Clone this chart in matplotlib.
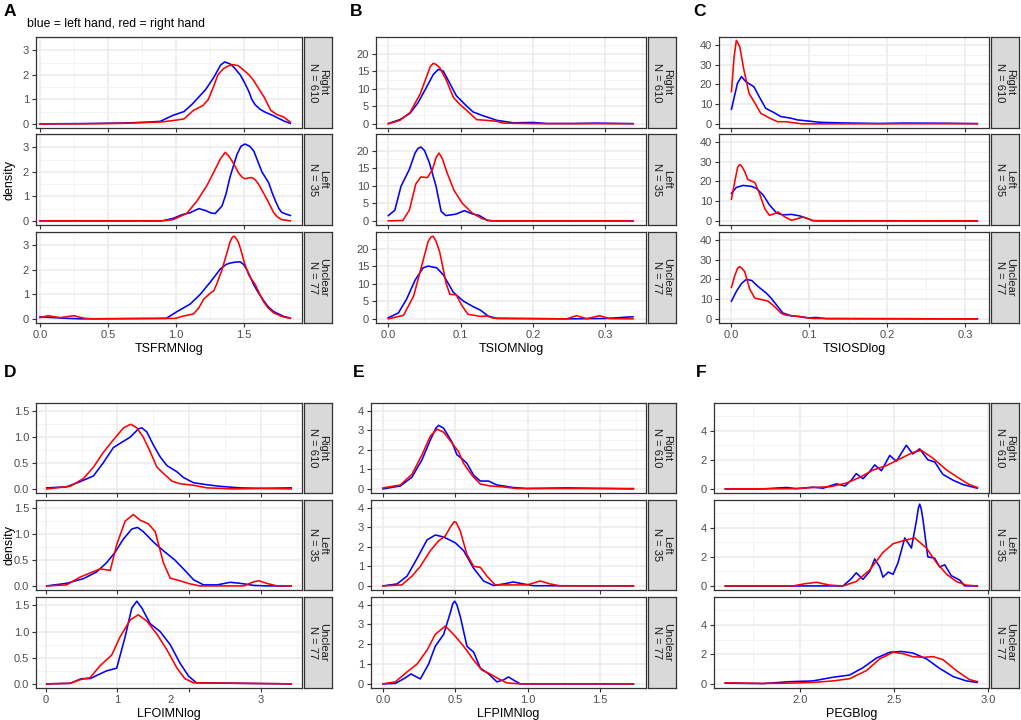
import matplotlib
matplotlib.use("Agg")
import matplotlib.pyplot as plt
from matplotlib.ticker import MultipleLocator
from matplotlib.transforms import ScaledTranslation

plt.rcParams['font.family'] = ['Liberation Sans', 'DejaVu Sans']

# density curves, (x, density) pairs
# A: TSFRMNlog
a_right_blue = [(0.0, 0.0), (0.3, 0.01), (0.6, 0.03), (0.75, 0.06), (0.885, 0.1), (0.98, 0.35), (1.06, 0.5),
                (1.12, 0.8), (1.17, 1.1), (1.22, 1.4), (1.28, 1.9), (1.33, 2.4), (1.36, 2.53), (1.40, 2.45),
                (1.43, 2.3), (1.475, 2.0), (1.51, 1.65), (1.54, 1.3), (1.56, 1.0), (1.585, 0.78), (1.62, 0.6),
                (1.65, 0.5), (1.72, 0.33), (1.795, 0.12), (1.844, 0.02)]
a_right_red = [(0.0, 0.0), (0.3, 0.0), (0.6, 0.02), (0.9, 0.08), (1.0, 0.15), (1.06, 0.2), (1.13, 0.55),
               (1.2, 0.75), (1.24, 1.0), (1.28, 1.55), (1.31, 2.0), (1.35, 2.25), (1.38, 2.35), (1.42, 2.42),
               (1.46, 2.38), (1.5, 2.2), (1.54, 2.0), (1.57, 1.8), (1.61, 1.45), (1.65, 1.1), (1.70, 0.55),
               (1.745, 0.38), (1.795, 0.28), (1.844, 0.07)]
a_left_blue = [(0.0, 0.0), (0.9, 0.0), (0.98, 0.1), (1.045, 0.25), (1.105, 0.33), (1.17, 0.5), (1.22, 0.42),
               (1.26, 0.32), (1.29, 0.3), (1.34, 0.6), (1.37, 1.1), (1.40, 1.8), (1.45, 2.7), (1.48, 3.05),
               (1.51, 3.14), (1.545, 3.05), (1.575, 2.85), (1.61, 2.35), (1.635, 2.0), (1.685, 1.55),
               (1.71, 1.15), (1.735, 0.8), (1.76, 0.5), (1.78, 0.35), (1.81, 0.28), (1.844, 0.22)]
a_left_red = [(0.0, 0.0), (0.9, 0.0), (0.98, 0.05), (1.08, 0.3), (1.155, 0.8), (1.23, 1.45), (1.29, 2.1),
              (1.33, 2.55), (1.365, 2.8), (1.39, 2.65), (1.414, 2.45), (1.44, 2.2), (1.463, 1.95),
              (1.49, 1.78), (1.51, 1.72), (1.535, 1.75), (1.56, 1.77), (1.585, 1.68), (1.61, 1.5),
              (1.64, 1.2), (1.67, 0.9), (1.72, 0.35), (1.75, 0.15), (1.78, 0.05), (1.844, 0.0)]
a_unclear_blue = [(0.0, 0.08), (0.1, 0.05), (0.2, 0.02), (0.3, 0.0), (0.93, 0.02), (1.01, 0.3), (1.105, 0.6),
                  (1.18, 1.0), (1.254, 1.5), (1.33, 2.05), (1.37, 2.22), (1.40, 2.28), (1.44, 2.32),
                  (1.475, 2.33), (1.5, 2.22), (1.525, 2.0), (1.55, 1.7), (1.574, 1.4), (1.61, 1.05),
                  (1.647, 0.75), (1.68, 0.5), (1.72, 0.3), (1.795, 0.1), (1.844, 0.03)]
a_unclear_red = [(0.0, 0.05), (0.06, 0.13), (0.1, 0.09), (0.15, 0.05), (0.2, 0.09), (0.25, 0.13),
                 (0.29, 0.07), (0.33, 0.02), (0.4, 0.0), (1.0, 0.02), (1.045, 0.1), (1.13, 0.2),
                 (1.17, 0.45), (1.205, 0.8), (1.254, 1.05), (1.28, 1.15), (1.30, 1.4), (1.34, 2.0),
                 (1.377, 2.7), (1.40, 3.15), (1.415, 3.32), (1.427, 3.38), (1.44, 3.33), (1.46, 3.15),
                 (1.475, 2.9), (1.505, 2.3), (1.537, 1.8), (1.56, 1.6), (1.586, 1.4), (1.615, 1.05),
                 (1.647, 0.7), (1.68, 0.45), (1.72, 0.25), (1.78, 0.1), (1.844, 0.02)]

# B: TSIOMNlog
b_right_blue = [(0.0, 0.1), (0.016, 1.2), (0.03, 3.0), (0.041, 6.0), (0.053, 10.5), (0.062, 14.0),
                (0.069, 15.5), (0.076, 15.0), (0.085, 11.5), (0.094, 8.0), (0.106, 5.5), (0.117, 3.4),
                (0.131, 2.3), (0.15, 1.0), (0.173, 0.3), (0.2, 0.4), (0.219, 0.1), (0.255, 0.1),
                (0.288, 0.2), (0.338, 0.05)]
b_right_red = [(0.0, 0.0), (0.016, 1.0), (0.03, 3.2), (0.044, 8.5), (0.053, 13.5), (0.058, 16.3),
               (0.062, 17.2), (0.066, 16.9), (0.071, 16.0), (0.08, 12.5), (0.09, 7.5), (0.099, 5.5),
               (0.11, 3.5), (0.122, 1.2), (0.136, 1.0), (0.15, 0.7), (0.159, 0.2), (0.21, 0.05),
               (0.338, 0.05)]
b_left_blue = [(0.0, 1.5), (0.009, 3.0), (0.0175, 9.8), (0.029, 14.6), (0.037, 19.3), (0.041, 20.6),
               (0.045, 21.0), (0.05, 20.0), (0.0568, 16.5), (0.066, 9.8), (0.073, 2.7), (0.0795, 1.5),
               (0.0933, 1.9), (0.105, 2.9), (0.116, 2.0), (0.126, 1.5), (0.137, 0.1), (0.145, 0.0),
               (0.338, 0.0)]
b_left_red = [(0.0, 0.0), (0.02, 0.1), (0.029, 3.0), (0.038, 10.5), (0.045, 12.5), (0.054, 12.3),
              (0.061, 14.6), (0.066, 18.0), (0.070, 19.3), (0.0745, 17.8), (0.0815, 13.5),
              (0.0907, 8.7), (0.1022, 5.0), (0.116, 2.2), (0.13, 0.6), (0.142, 0.0), (0.338, 0.0)]
b_unclear_blue = [(0.0, 0.3), (0.014, 1.7), (0.025, 5.5), (0.037, 11.0), (0.048, 14.5), (0.055, 15.0),
                  (0.067, 14.5), (0.076, 12.5), (0.09, 7.5), (0.104, 5.0), (0.117, 3.5), (0.127, 2.5),
                  (0.138, 0.8), (0.15, 0.1), (0.25, 0.0), (0.3, 0.1), (0.338, 0.6)]
b_unclear_red = [(0.0, 0.0), (0.021, 1.0), (0.035, 6.5), (0.046, 15.0), (0.055, 22.0), (0.059, 23.3),
                 (0.062, 23.5), (0.066, 22.0), (0.071, 19.0), (0.08, 10.0), (0.085, 7.0), (0.094, 6.8),
                 (0.101, 4.0), (0.11, 1.3), (0.127, 0.7), (0.136, 0.8), (0.145, 0.2), (0.246, 0.0),
                 (0.26, 0.9), (0.274, 0.05), (0.292, 0.9), (0.306, 0.05), (0.338, 0.0)]

# C: TSIOSDlog
c_right_blue = [(0.0, 7.4), (0.0077, 20.6), (0.0129, 24.0), (0.0185, 21.4), (0.029, 18.8), (0.0355, 13.9),
                (0.044, 7.9), (0.0548, 5.7), (0.0634, 3.7), (0.0763, 2.9), (0.0849, 2.0), (0.1, 1.4),
                (0.113, 0.8), (0.139, 0.5), (0.19, 0.2), (0.22, 0.4), (0.276, 0.3), (0.316, 0.1)]
c_right_red = [(0.0, 16.4), (0.0034, 34.0), (0.0063, 42.4), (0.0106, 39.3), (0.016, 27.4), (0.0226, 15.5),
               (0.029, 11.3), (0.0376, 5.4), (0.0483, 3.1), (0.059, 1.1), (0.0698, 1.1), (0.091, 0.0),
               (0.316, 0.1)]
c_left_blue = [(0.0, 14.0), (0.0064, 17.0), (0.015, 18.0), (0.026, 17.5), (0.032, 16.5), (0.041, 13.0),
               (0.049, 8.0), (0.058, 4.0), (0.066, 3.0), (0.077, 3.3), (0.088, 2.5), (0.099, 1.0),
               (0.105, 0.1), (0.114, 0.0), (0.316, 0.0)]
c_left_red = [(0.0, 11.0), (0.0043, 20.0), (0.008, 27.3), (0.0107, 28.6), (0.0135, 27.6), (0.017, 25.0),
              (0.021, 21.0), (0.03, 19.5), (0.036, 14.0), (0.043, 6.0), (0.049, 2.8), (0.056, 3.8),
              (0.06, 4.5), (0.0686, 2.0), (0.077, 0.3), (0.086, 1.2), (0.092, 2.0), (0.099, 1.0),
              (0.105, 0.1), (0.316, 0.0)]
c_unclear_blue = [(0.0, 9.0), (0.0064, 14.0), (0.013, 18.0), (0.019, 20.0), (0.026, 19.5), (0.034, 16.5),
                  (0.045, 13.0), (0.051, 10.5), (0.06, 6.0), (0.066, 3.0), (0.077, 1.5), (0.088, 1.2),
                  (0.099, 0.5), (0.109, 0.7), (0.122, 0.1), (0.316, 0.0)]
c_unclear_red = [(0.0, 16.0), (0.0043, 22.0), (0.008, 25.8), (0.0107, 26.5), (0.0135, 25.6), (0.017, 24.0),
                 (0.0236, 15.0), (0.03, 10.5), (0.0386, 9.8), (0.047, 9.0), (0.056, 6.0), (0.064, 2.8),
                 (0.0707, 1.8), (0.079, 1.6), (0.092, 0.8), (0.105, 0.2), (0.316, 0.0)]

# D: LFOIMNlog
d_right_blue = [(0.014, 0.02), (0.29, 0.04), (0.48, 0.14), (0.665, 0.25), (0.80, 0.5), (0.944, 0.8),
                (1.06, 0.9), (1.177, 1.0), (1.293, 1.16), (1.34, 1.18), (1.41, 1.1), (1.5, 0.85),
                (1.595, 0.62), (1.69, 0.45), (1.83, 0.33), (1.92, 0.22), (2.06, 0.12), (2.25, 0.08),
                (2.43, 0.05), (2.71, 0.02), (2.99, 0.01), (3.42, 0.02)]
d_right_red = [(0.014, 0.0), (0.34, 0.05), (0.526, 0.2), (0.665, 0.42), (0.80, 0.7), (0.944, 0.95),
               (1.084, 1.18), (1.186, 1.25), (1.27, 1.18), (1.36, 1.0), (1.456, 0.72), (1.55, 0.42),
               (1.64, 0.3), (1.76, 0.15), (1.87, 0.1), (2.06, 0.07), (2.25, 0.02), (2.62, 0.0),
               (2.99, 0.01), (3.42, 0.0)]
d_left_blue = [(0.014, 0.0), (0.29, 0.05), (0.526, 0.14), (0.71, 0.27), (0.85, 0.45), (0.967, 0.65),
               (1.08, 0.9), (1.2, 1.1), (1.28, 1.13), (1.36, 1.05), (1.5, 0.85), (1.64, 0.68),
               (1.80, 0.5), (1.94, 0.3), (2.06, 0.12), (2.2, 0.02), (2.39, 0.02), (2.57, 0.07),
               (2.71, 0.05), (2.9, 0.01), (3.08, 0.0), (3.42, 0.0)]
d_left_red = [(0.014, 0.0), (0.29, 0.02), (0.48, 0.17), (0.62, 0.25), (0.76, 0.33), (0.90, 0.3),
              (0.99, 0.8), (1.107, 1.25), (1.22, 1.38), (1.316, 1.27), (1.43, 1.2), (1.526, 1.05),
              (1.64, 0.45), (1.735, 0.15), (1.87, 0.1), (2.01, 0.04), (2.15, 0.0), (2.76, 0.0),
              (2.9, 0.08), (2.97, 0.1), (3.08, 0.05), (3.22, 0.0), (3.42, 0.0)]
d_unclear_blue = [(0.014, 0.0), (0.34, 0.01), (0.5, 0.1), (0.62, 0.1), (0.71, 0.16), (0.85, 0.25),
                  (0.99, 0.3), (1.107, 0.9), (1.2, 1.45), (1.27, 1.58), (1.34, 1.45), (1.456, 1.15),
                  (1.595, 1.0), (1.735, 0.75), (1.87, 0.4), (1.99, 0.15), (2.1, 0.02), (3.42, 0.0)]
d_unclear_red = [(0.014, 0.0), (0.34, 0.01), (0.48, 0.08), (0.62, 0.12), (0.76, 0.35), (0.92, 0.55),
                 (1.037, 0.9), (1.177, 1.22), (1.29, 1.32), (1.41, 1.2), (1.55, 0.95), (1.69, 0.65),
                 (1.83, 0.3), (1.94, 0.1), (2.06, 0.02), (3.42, 0.0)]

# E: LFPIMNlog
e_right_blue = [(0.0, 0.0), (0.12, 0.15), (0.2, 0.6), (0.27, 1.5), (0.327, 2.5), (0.365, 3.1), (0.384, 3.25),
                (0.419, 3.1), (0.476, 2.4), (0.51, 1.75), (0.545, 1.55), (0.58, 1.3), (0.626, 0.7),
                (0.672, 0.4), (0.73, 0.4), (0.787, 0.2), (0.9, 0.07), (0.994, 0.02), (1.27, 0.05),
                (1.73, 0.0)]
e_right_red = [(0.0, 0.05), (0.12, 0.2), (0.2, 0.75), (0.27, 1.75), (0.327, 2.7), (0.373, 3.05),
               (0.419, 2.9), (0.476, 2.35), (0.522, 1.9), (0.557, 1.3), (0.614, 0.7), (0.672, 0.25),
               (0.74, 0.15), (0.833, 0.1), (0.925, 0.02), (1.086, 0.02), (1.73, 0.02)]
e_left_blue = [(0.0, 0.0), (0.097, 0.1), (0.166, 0.5), (0.235, 1.4), (0.304, 2.35), (0.361, 2.6),
               (0.419, 2.5), (0.5, 2.2), (0.557, 1.8), (0.626, 0.9), (0.695, 0.25), (0.764, 0.02),
               (0.833, 0.1), (0.9, 0.2), (0.97, 0.1), (1.04, 0.01), (1.73, 0.0)]
e_left_red = [(0.0, 0.0), (0.13, 0.05), (0.2, 0.5), (0.258, 1.0), (0.327, 1.8), (0.384, 2.3),
              (0.43, 2.55), (0.465, 3.0), (0.49, 3.28), (0.505, 3.25), (0.534, 2.8), (0.58, 1.6),
              (0.626, 1.0), (0.672, 0.95), (0.718, 0.5), (0.775, 0.05), (0.994, 0.05), (1.086, 0.25),
              (1.155, 0.1), (1.224, 0.0), (1.73, 0.0)]
e_unclear_blue = [(0.0, 0.0), (0.085, 0.02), (0.154, 0.3), (0.193, 0.5), (0.258, 0.25), (0.315, 1.0),
                  (0.361, 1.9), (0.419, 2.5), (0.465, 3.6), (0.482, 4.05), (0.495, 4.18), (0.51, 4.0),
                  (0.534, 3.4), (0.58, 1.9), (0.626, 1.6), (0.672, 0.8), (0.73, 0.5), (0.787, 0.1),
                  (0.833, 0.2), (0.867, 0.35), (0.9, 0.2), (0.948, 0.0), (1.73, 0.0)]
e_unclear_red = [(0.0, 0.0), (0.085, 0.1), (0.166, 0.6), (0.235, 1.0), (0.304, 1.7), (0.361, 2.5),
                 (0.43, 2.92), (0.488, 2.5), (0.557, 1.9), (0.626, 1.2), (0.683, 0.7), (0.74, 0.5),
                 (0.8, 0.25), (0.856, 0.05), (0.948, 0.0), (1.73, 0.0)]

# F: PEGBlog
f_right_blue = [(1.605, 0.0), (1.805, 0.0), (1.93, 0.1), (1.982, 0.02), (2.07, 0.12), (2.124, 0.05),
                (2.195, 0.35), (2.24, 0.2), (2.274, 0.6), (2.30, 1.05), (2.336, 0.7), (2.372, 1.2),
                (2.398, 1.65), (2.434, 1.25), (2.478, 2.3), (2.513, 1.9), (2.566, 3.0), (2.60, 2.4),
                (2.637, 2.75), (2.68, 2.0), (2.717, 1.85), (2.76, 1.0), (2.814, 0.6), (2.867, 0.3),
                (2.943, 0.05)]
f_right_red = [(1.605, 0.0), (1.98, 0.02), (2.07, 0.1), (2.16, 0.15), (2.248, 0.4), (2.32, 0.8),
               (2.39, 1.3), (2.46, 1.6), (2.53, 2.05), (2.60, 2.5), (2.646, 2.65), (2.708, 2.1),
               (2.78, 1.3), (2.85, 0.7), (2.90, 0.3), (2.943, 0.1)]
f_left_blue = [(1.605, 0.0), (2.07, 0.0), (2.23, 0.0), (2.274, 0.5), (2.30, 0.9), (2.336, 0.45),
               (2.372, 1.0), (2.398, 1.85), (2.425, 1.3), (2.442, 0.6), (2.47, 0.95), (2.496, 0.8),
               (2.522, 1.6), (2.558, 3.3), (2.593, 2.6), (2.62, 4.5), (2.63, 5.35), (2.637, 5.62),
               (2.645, 5.3), (2.655, 4.5), (2.68, 2.0), (2.717, 1.9), (2.743, 1.3), (2.77, 1.45),
               (2.805, 0.7), (2.85, 0.4), (2.876, 0.0), (2.943, 0.0)]
f_left_red = [(1.605, 0.0), (1.965, 0.0), (2.027, 0.15), (2.09, 0.25), (2.16, 0.05), (2.23, 0.0),
              (2.30, 0.3), (2.372, 1.1), (2.442, 2.3), (2.496, 2.9), (2.549, 3.1), (2.61, 3.3),
              (2.673, 2.6), (2.726, 1.6), (2.78, 0.8), (2.832, 0.3), (2.885, 0.05), (2.943, 0.0)]
f_unclear_blue = [(1.605, 0.05), (1.805, 0.02), (1.947, 0.15), (2.07, 0.2), (2.177, 0.45), (2.265, 0.6),
                  (2.336, 1.1), (2.407, 1.75), (2.478, 2.15), (2.54, 2.2), (2.60, 2.1), (2.673, 1.7),
                  (2.743, 1.05), (2.814, 0.5), (2.885, 0.2), (2.943, 0.1)]
f_unclear_red = [(1.605, 0.07), (1.805, 0.03), (1.947, 0.05), (2.07, 0.1), (2.177, 0.2), (2.265, 0.35),
                 (2.354, 0.9), (2.425, 1.7), (2.496, 2.15), (2.549, 2.05), (2.60, 1.85), (2.655, 1.8),
                 (2.708, 1.85), (2.76, 1.65), (2.832, 0.9), (2.90, 0.3), (2.943, 0.15)]

panel_letters = ['A', 'B', 'C', 'D', 'E', 'F']
x_titles = ['TSFRMNlog', 'TSIOMNlog', 'TSIOSDlog', 'LFOIMNlog', 'LFPIMNlog', 'PEGBlog']
facet_labels = ['Right\nN = 610', 'Left\nN = 35', 'Unclear\nN = 77']
x_ticks = [[0, 0.5, 1.0, 1.5], [0, 0.1, 0.2, 0.3], [0, 0.1, 0.2, 0.3],
           [0, 1, 2, 3], [0, 0.5, 1.0, 1.5], [2.0, 2.5, 3.0]]
x_ticklabels = [['0.0', '0.5', '1.0', '1.5'], ['0.0', '0.1', '0.2', '0.3'], ['0.0', '0.1', '0.2', '0.3'],
                ['0', '1', '2', '3'], ['0.0', '0.5', '1.0', '1.5'], ['2.0', '2.5', '3.0']]
y_ticks = [[0, 1, 2, 3], [0, 5, 10, 15, 20], [0, 10, 20, 30, 40],
           [0, 0.5, 1.0, 1.5], [0, 1, 2, 3, 4], [0, 2, 4]]
y_ticklabels = [['0', '1', '2', '3'], ['0', '5', '10', '15', '20'], ['0', '10', '20', '30', '40'],
                ['0.0', '0.5', '1.0', '1.5'], ['0', '1', '2', '3', '4'], ['0', '2', '4']]
x_limits = [(-0.03, 1.93), (-0.017, 0.356), (-0.016, 0.331), (-0.135, 3.572), (-0.083, 1.817), (1.545, 3.005)]
y_limits = [(-0.17, 3.55), (-1.18, 24.7), (-2.1, 44.1), (-0.079, 1.66), (-0.21, 4.39), (-0.28, 5.9)]

curves = [
    [(a_right_blue, a_right_red), (a_left_blue, a_left_red), (a_unclear_blue, a_unclear_red)],
    [(b_right_blue, b_right_red), (b_left_blue, b_left_red), (b_unclear_blue, b_unclear_red)],
    [(c_right_blue, c_right_red), (c_left_blue, c_left_red), (c_unclear_blue, c_unclear_red)],
    [(d_right_blue, d_right_red), (d_left_blue, d_left_red), (d_unclear_blue, d_unclear_red)],
    [(e_right_blue, e_right_red), (e_left_blue, e_left_red), (e_unclear_blue, e_unclear_red)],
    [(f_right_blue, f_right_red), (f_left_blue, f_left_red), (f_unclear_blue, f_unclear_red)],
]

W, H = 1021, 720
fig = plt.figure(figsize=(W / 100, H / 100), dpi=100)
fig.patch.set_facecolor('white')

# pixel layout of each panel: (left, right) of plotting area, facet (top, bottom) rows
panel_lr = [(36, 302), (376, 646), (719, 989), (36, 302), (371, 646), (714, 989)]
rows_top = [(37, 128), (134, 225), (232, 323)]
rows_bottom = [(403, 493), (500, 590), (597, 688)]
strip_w = 28


def px_axes(left, top, right, bottom):
    return fig.add_axes([left / W, 1 - bottom / H, (right - left) / W, (bottom - top) / H])


border = '#333333'
for p in range(6):
    left, right = panel_lr[p]
    rows = rows_top if p < 3 else rows_bottom
    for r, (top, bottom) in enumerate(rows):
        ax = px_axes(left, top, right, bottom)
        blue, red = curves[p][r]
        ax.plot([v[0] for v in blue], [v[1] for v in blue], color='#0000FF', lw=1.15, zorder=3,
                solid_joinstyle='round')
        ax.plot([v[0] for v in red], [v[1] for v in red], color='#FF0000', lw=1.15, zorder=4,
                solid_joinstyle='round')
        ax.set_xlim(*x_limits[p])
        ax.set_ylim(*y_limits[p])
        ax.set_xticks(x_ticks[p])
        ax.set_yticks(y_ticks[p])
        ax.set_yticklabels(y_ticklabels[p])
        xstep = x_ticks[p][1] - x_ticks[p][0]
        ystep = y_ticks[p][1] - y_ticks[p][0]
        ax.xaxis.set_minor_locator(MultipleLocator(xstep / 2))
        ax.yaxis.set_minor_locator(MultipleLocator(ystep / 2))
        ax.grid(which='major', color='#EBEBEB', lw=1.1, zorder=0)
        ax.grid(which='minor', color='#F2F2F2', lw=0.6, zorder=0)
        ax.set_axisbelow(True)
        ax.tick_params(which='major', direction='out', length=3, width=0.8, color=border,
                       labelcolor='#4D4D4D', labelsize=8, pad=2)
        ax.tick_params(which='minor', length=0)
        for s in ax.spines.values():
            s.set_color(border)
            s.set_linewidth(0.9)
        if r == 2:
            ax.set_xticklabels(x_ticklabels[p])
            ax.set_xlabel(x_titles[p], fontsize=9, labelpad=2, color='black')
        else:
            ax.set_xticklabels([])
        if p == 3 and r == 2:
            # the "2" label sits left of its tick in the reference
            lab = ax.xaxis.get_major_ticks()[2].label1
            lab.set_transform(lab.get_transform() + ScaledTranslation(-0.19, 0, fig.dpi_scale_trans))

        sax = px_axes(right + 2, top, right + 2 + strip_w, bottom)
        sax.set_facecolor('#D9D9D9')
        sax.set_xticks([])
        sax.set_yticks([])
        for s in sax.spines.values():
            s.set_color(border)
            s.set_linewidth(0.9)
        sax.text(0.5, 0.5, facet_labels[r], rotation=270, ha='center', va='center',
                 fontsize=8, color='#1A1A1A', linespacing=0.95, transform=sax.transAxes)

    # panel letter
    lx = 4 if p % 3 == 0 else left - 26 if p in (1, 2) else left - 18
    ly = 12 if p < 3 else 372
    fig.text(lx / W, 1 - ly / H, panel_letters[p], fontsize=12.5, fontweight='bold', va='center', ha='left')

fig.text(27 / W, 1 - 24 / H, 'blue = left hand, red = right hand', fontsize=8.8, va='center', ha='left')
fig.text(9 / W, 1 - 180 / H, 'density', rotation=90, fontsize=9, va='center', ha='center')
fig.text(9 / W, 1 - 545 / H, 'density', rotation=90, fontsize=9, va='center', ha='center')

fig.savefig('out.png', dpi=100, facecolor='white')
